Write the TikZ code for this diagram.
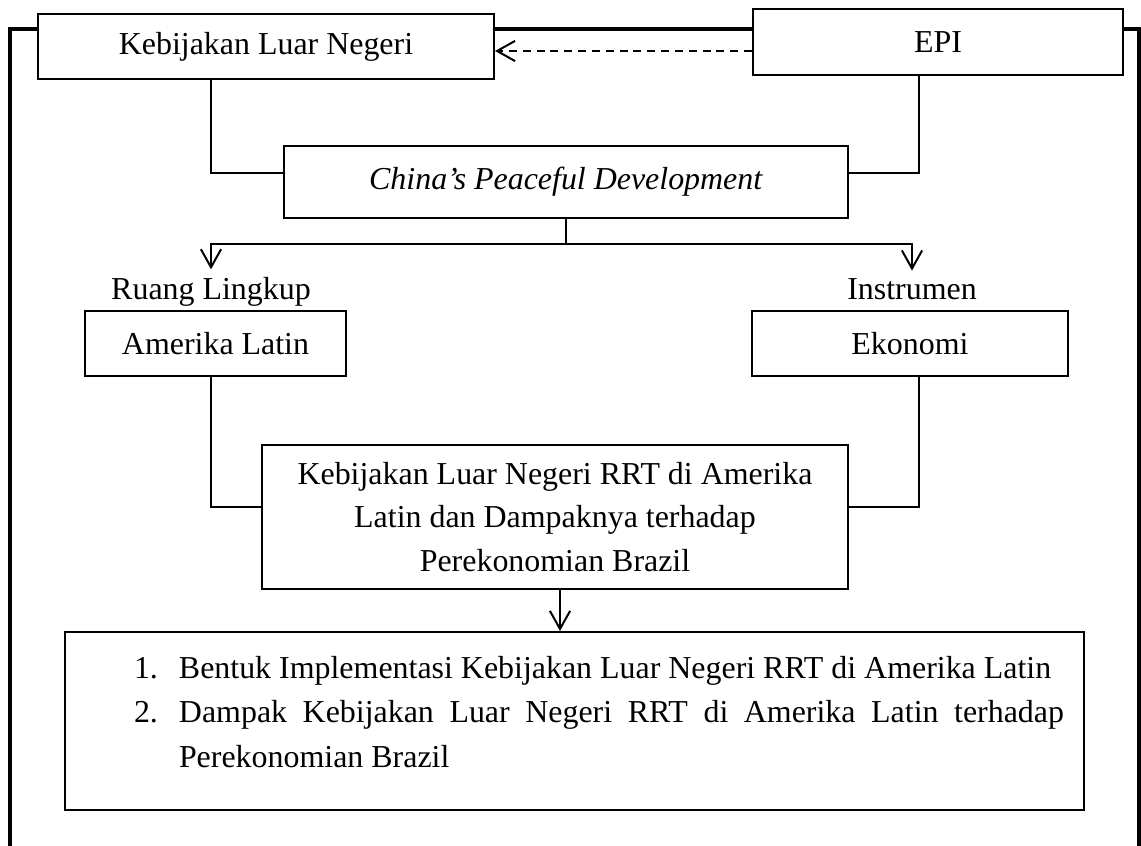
\documentclass[tikz,border=0pt]{standalone}
\usepackage{fontspec}
\setmainfont{Liberation Serif}
\usetikzlibrary{arrows.meta}
\newlength\px \setlength\px{0.3759pt}

\begin{document}
\begin{tikzpicture}[x=0.3759pt, y=-0.3759pt, font=\fontsize{12pt}{16.5pt}\selectfont,
		line join=miter, >={Straight Barb[length=6.8pt,width=7.6pt]},
		kotak/.style 2 args={draw, line width=0.75pt, minimum width=#1*\px, minimum height=#2*\px, inner sep=0pt, align=center},
		judul/.style={inner xsep=0pt, inner ysep=3pt},
		garis/.style={line width=0.75pt},
		bingkai/.style={line width=1.25pt}]
		\fill[white] (0,0) rectangle (1141,846);
		\useasboundingbox (0,0) rectangle (1141,846);
		% kotak-kotak
		\node (kln) [kotak={456}{65}] at (266,46.5) {Kebijakan Luar Negeri};
		\node (epi) [kotak={370}{66}] at (938,42) {EPI};
		\node (cpd) [kotak={564}{72}] at (566,182) {\textit{China’s Peaceful Development}};
		\node (ruang) [judul, anchor=base] at (211,300) {Ruang Lingkup};
		\node (instr) [judul, anchor=base] at (912,300) {Instrumen};
		\node (amerika) [kotak={261}{65}] at (215.5,343.5) {Amerika Latin};
		\node (ekonomi) [kotak={316}{65}] at (910,343.5) {Ekonomi};
		\node (utama) [kotak={586}{144}] at (555,517) {Kebijakan Luar Negeri RRT di Amerika\\Latin dan Dampaknya terhadap\\Perekonomian Brazil};
		\node (hasil) [kotak={1019}{178}] at (574.5,721) {};
		\node (daftar) [inner sep=0pt] at (599,712) {\begin{minipage}{930\px}
				\fontsize{12pt}{16.8pt}\selectfont\parindent=0pt\tolerance=10000
				\hangindent=45\px\hangafter=1\makebox[45\px][l]{1.}Bentuk Implementasi Kebijakan Luar Negeri RRT di Amerika Latin\par
				\hangindent=45\px\hangafter=1\makebox[45\px][l]{2.}Dampak Kebijakan Luar Negeri RRT di Amerika Latin terhadap\linebreak Perekonomian Brazil\par
			\end{minipage}};
		% bingkai luar
		\coordinate (kiribawah) at (10,846);
		\coordinate (kananbawah) at (1139,846);
		\draw[bingkai] (kln.west |- 0,29) -| (kiribawah);
		\draw[bingkai] (kln.east |- 0,29) -- (epi.west |- 0,29);
		\draw[bingkai] (epi.east |- 0,29) -| (kananbawah);
		% penghubung
		\coordinate (kanan) at (919,0);
		\coordinate (cabang) at (566,244);
		\draw[garis, dash pattern=on 3pt off 2.2pt, ->] (epi.west |- 0,51) -- (kln.east |- 0,51);
		\draw[garis] (kln.south -| ruang.north) |- (cpd.west |- 0,173);
		\draw[garis] (epi.south -| kanan) |- (cpd.east |- 0,173);
		\draw[garis] (cpd.south) -- (cabang);
		\draw[garis, ->] (cabang) -| (ruang.north);
		\draw[garis, ->] (cabang) -| (instr.north);
		\draw[garis] (amerika.south -| ruang.north) |- (utama.west |- 0,507);
		\draw[garis] (ekonomi.south -| kanan) |- (utama.east |- 0,507);
		\draw[garis, ->] (utama.south -| 560,0) -- (hasil.north -| 560,0);
\end{tikzpicture}
\end{document}
